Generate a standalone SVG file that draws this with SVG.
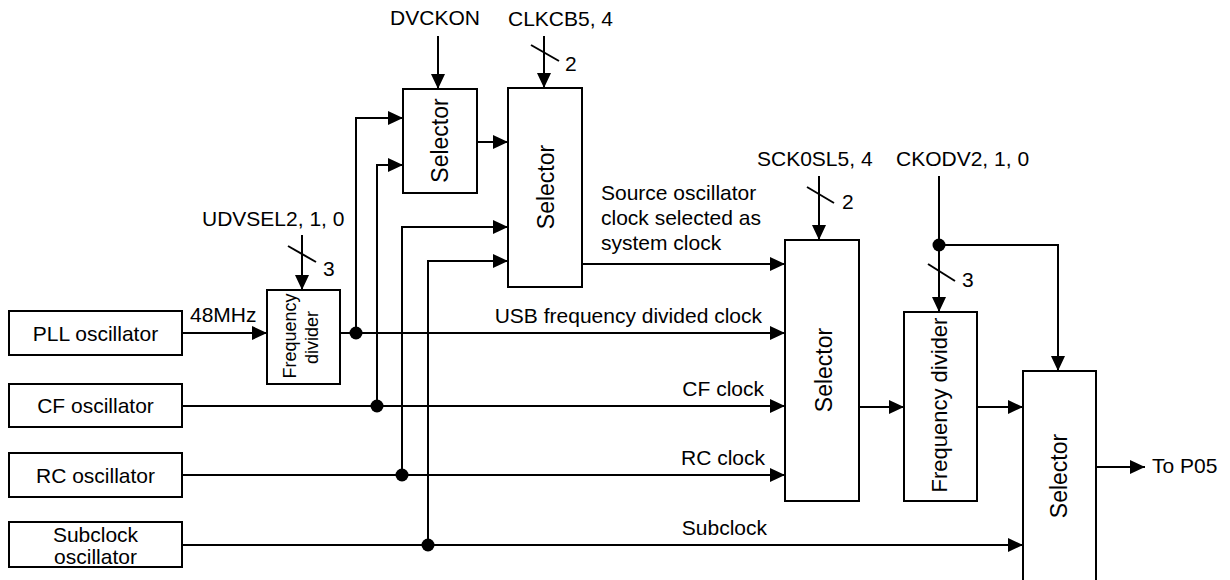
<svg xmlns="http://www.w3.org/2000/svg" width="1230" height="580" viewBox="0 0 1230 580">
<style>
.box{fill:#fff;stroke:#000;stroke-width:2}
.ln{fill:none;stroke:#000;stroke-width:2}
.arr{marker-end:url(#ah)}
.t{font-family:"Liberation Sans",Arial,sans-serif;font-size:21px;fill:#000}
.sel{font-family:"Liberation Sans",Arial,sans-serif;font-size:23px;fill:#000;text-anchor:middle}
.fd{font-family:"Liberation Sans",Arial,sans-serif;font-size:22px;fill:#000;text-anchor:middle}
.fds{font-family:"Liberation Sans",Arial,sans-serif;font-size:18px;fill:#000;text-anchor:middle}
.m{text-anchor:middle}
.e{text-anchor:end}
.dot{fill:#000}
</style>
<defs>
<marker id="ah" viewBox="0 0 15 14" refX="15" refY="7" markerWidth="15" markerHeight="14" markerUnits="userSpaceOnUse" orient="auto">
<path d="M0,0 L15,7 L0,14 z" fill="#000"/>
</marker>
</defs>
<rect width="1230" height="580" fill="#fff"/>

<g id="connectors">
<path class="ln arr" d="M438,36 V89"/>
<path class="ln arr" d="M544,36 V88"/>
<path class="ln" d="M531,45 L559,61"/>
<path class="ln arr" d="M477,142 H508"/>
<path class="ln arr" d="M182,333 H267"/>
<path class="ln arr" d="M302,235 V290"/>
<path class="ln" d="M288,246 L316,262"/>
<path class="ln arr" d="M340,333 H785"/>
<path class="ln arr" d="M356,333 V118 H403"/>
<path class="ln arr" d="M182,406 H785"/>
<path class="ln arr" d="M377,406 V165 H403"/>
<path class="ln arr" d="M182,475 H785"/>
<path class="ln arr" d="M402,475 V227 H508"/>
<path class="ln arr" d="M182,545 H1023"/>
<path class="ln arr" d="M428,545 V261 H508"/>
<path class="ln arr" d="M582,264 H785"/>
<path class="ln arr" d="M819,176 V240"/>
<path class="ln" d="M807,187 L834,203"/>
<path class="ln arr" d="M939,176 V312"/>
<path class="ln arr" d="M939,245 H1058 V371"/>
<path class="ln" d="M928,264 L955,281"/>
<path class="ln arr" d="M859,407 H904"/>
<path class="ln arr" d="M977,407 H1023"/>
<path class="ln arr" d="M1096,467 H1145"/>
<circle class="dot" cx="356" cy="333" r="6.5"/>
<circle class="dot" cx="377" cy="406" r="6.5"/>
<circle class="dot" cx="402" cy="475" r="6.5"/>
<circle class="dot" cx="428" cy="545" r="6.5"/>
<circle class="dot" cx="939" cy="245" r="6.5"/>
<text class="t" x="565" y="71">2</text>
<text class="t" x="323" y="276">3</text>
<text class="t" x="842" y="209">2</text>
<text class="t" x="962" y="287">3</text>
<text class="t" x="190" y="322">48MHz</text>
<text class="t" x="601" y="200">Source oscillator</text>
<text class="t" x="601" y="225">clock selected as</text>
<text class="t" x="601" y="250">system clock</text>
<text class="t e" x="762" y="323">USB frequency divided clock</text>
<text class="t e" x="764" y="396">CF clock</text>
<text class="t e" x="765" y="465">RC clock</text>
<text class="t e" x="767" y="535">Subclock</text>
<text class="t" x="1152" y="473">To P05</text>
</g>

<g id="sig-dvckon"><text class="t m" x="435" y="25">DVCKON</text></g>
<g id="sig-clkcb"><text class="t" x="508" y="26">CLKCB5, 4</text></g>
<g id="sig-udvsel"><text class="t" x="202" y="226">UDVSEL2, 1, 0</text></g>
<g id="sig-sck0sl"><text class="t" x="757" y="166">SCK0SL5, 4</text></g>
<g id="sig-ckodv"><text class="t" x="896" y="166">CKODV2, 1, 0</text></g>

<g id="pll-osc">
<rect class="box" x="9" y="311" width="173" height="44"/>
<text class="t m" x="95.5" y="340.5">PLL oscillator</text>
</g>
<g id="cf-osc">
<rect class="box" x="9" y="384" width="173" height="43"/>
<text class="t m" x="95.5" y="413">CF oscillator</text>
</g>
<g id="rc-osc">
<rect class="box" x="9" y="453" width="173" height="44"/>
<text class="t m" x="95.5" y="482.5">RC oscillator</text>
</g>
<g id="sub-osc">
<rect class="box" x="9" y="522" width="173" height="45"/>
<text class="t m" x="95.5" y="542">Subclock</text>
<text class="t m" x="95.5" y="564">oscillator</text>
</g>

<g id="freq-div-usb">
<rect class="box" x="267" y="290" width="73" height="94"/>
<text class="fds" transform="translate(296,336) rotate(-90)">Frequency</text>
<text class="fds" transform="translate(318,337.5) rotate(-90)">divider</text>
</g>
<g id="selector1">
<rect class="box" x="403" y="89" width="74" height="104"/>
<text class="sel" transform="translate(448,140.5) rotate(-90)">Selector</text>
</g>
<g id="selector2">
<rect class="box" x="508" y="88" width="74" height="199"/>
<text class="sel" transform="translate(554,187) rotate(-90)">Selector</text>
</g>
<g id="selector3">
<rect class="box" x="785" y="240" width="74" height="261"/>
<text class="sel" transform="translate(832,370) rotate(-90)">Selector</text>
</g>
<g id="freq-div-out">
<rect class="box" x="904" y="312" width="73" height="189"/>
<text class="fd" transform="translate(947,405) rotate(-90)">Frequency divider</text>
</g>
<g id="selector4">
<rect class="box" x="1023" y="371" width="73" height="230"/>
<text class="sel" transform="translate(1067,476) rotate(-90)">Selector</text>
</g>
</svg>
